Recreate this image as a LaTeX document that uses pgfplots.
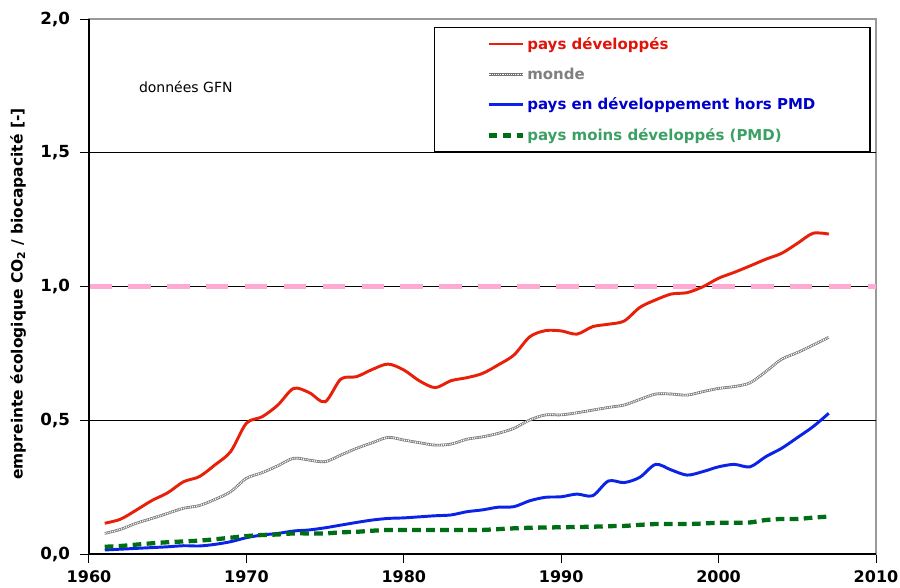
\documentclass[border=0pt]{standalone}
\usepackage{fontspec}
\setmainfont{DejaVu Sans}
\usepackage{pgfplots}
\pgfplotsset{compat=1.18}
\usepackage{pgfplotstable}

\definecolor{devred}{RGB}{232,32,10}
\definecolor{devredtxt}{RGB}{225,20,10}
\definecolor{devblue}{RGB}{10,35,230}
\definecolor{devbluetxt}{RGB}{0,0,205}
\definecolor{pmdgreen}{RGB}{0,110,20}
\definecolor{pmdgreentxt}{RGB}{60,160,100}
\definecolor{mondegray}{RGB}{128,128,128}
\definecolor{limitpink}{RGB}{255,170,210}

% developed countries
\pgfplotstableread{
year val
1961 0.115
1962 0.130
1963 0.164
1964 0.200
1965 0.229
1966 0.270
1967 0.289
1968 0.333
1969 0.383
1970 0.489
1971 0.513
1972 0.557
1973 0.619
1974 0.603
1975 0.569
1976 0.654
1977 0.663
1978 0.690
1979 0.710
1980 0.688
1981 0.647
1982 0.622
1983 0.648
1984 0.659
1985 0.675
1986 0.707
1987 0.744
1988 0.812
1989 0.835
1990 0.834
1991 0.822
1992 0.850
1993 0.859
1994 0.871
1995 0.922
1996 0.950
1997 0.972
1998 0.977
1999 0.999
2000 1.031
2001 1.053
2002 1.077
2003 1.102
2004 1.124
2005 1.161
2006 1.199
2007 1.196
}\developed

% world
\pgfplotstableread{
year val
1961 0.077
1962 0.092
1963 0.115
1964 0.133
1965 0.152
1966 0.171
1967 0.181
1968 0.204
1969 0.233
1970 0.283
1971 0.304
1972 0.330
1973 0.358
1974 0.351
1975 0.345
1976 0.370
1977 0.395
1978 0.416
1979 0.436
1980 0.426
1981 0.416
1982 0.407
1983 0.411
1984 0.429
1985 0.438
1986 0.451
1987 0.470
1988 0.501
1989 0.520
1990 0.520
1991 0.528
1992 0.538
1993 0.548
1994 0.557
1995 0.578
1996 0.598
1997 0.598
1998 0.594
1999 0.607
2000 0.619
2001 0.626
2002 0.640
2003 0.682
2004 0.728
2005 0.753
2006 0.781
2007 0.810
}\world

% developing countries excluding LDC
\pgfplotstableread{
year val
1961 0.015
1962 0.018
1963 0.021
1964 0.024
1965 0.027
1966 0.031
1967 0.030
1968 0.036
1969 0.046
1970 0.061
1971 0.071
1972 0.077
1973 0.086
1974 0.090
1975 0.098
1976 0.108
1977 0.118
1978 0.127
1979 0.133
1980 0.135
1981 0.139
1982 0.143
1983 0.146
1984 0.158
1985 0.165
1986 0.175
1987 0.177
1988 0.199
1989 0.212
1990 0.214
1991 0.224
1992 0.218
1993 0.273
1994 0.267
1995 0.287
1996 0.335
1997 0.314
1998 0.295
1999 0.308
2000 0.326
2001 0.335
2002 0.326
2003 0.364
2004 0.395
2005 0.435
2006 0.476
2007 0.526
}\developing

% least developed countries
\pgfplotstableread{
year val
1961 0.027
1962 0.030
1963 0.035
1964 0.040
1965 0.044
1966 0.047
1967 0.050
1968 0.055
1969 0.061
1970 0.067
1971 0.071
1972 0.073
1973 0.077
1974 0.077
1975 0.077
1976 0.081
1977 0.083
1978 0.087
1979 0.090
1980 0.090
1981 0.090
1982 0.090
1983 0.090
1984 0.090
1985 0.090
1986 0.093
1987 0.096
1988 0.098
1989 0.099
1990 0.100
1991 0.101
1992 0.102
1993 0.104
1994 0.105
1995 0.109
1996 0.112
1997 0.112
1998 0.112
1999 0.114
2000 0.117
2001 0.117
2002 0.118
2003 0.127
2004 0.131
2005 0.131
2006 0.136
2007 0.140
}\ldc

\begin{document}
\begin{tikzpicture}
\begin{axis}[
  scale only axis,
  width=590.25pt, height=401.25pt,
  xmin=1960, xmax=2010, ymin=0, ymax=2,
  xtick={1960,1970,...,2010},
  ytick={0,0.5,1,1.5,2},
  xtick pos=left, ytick pos=left,
  tick align=outside,
  major tick length=6.75pt,
  tick style={black, line width=0.75pt},
  axis line style={draw=gray!80, line width=1pt},
  xticklabel style={font=\fontsize{12}{14}\selectfont\bfseries, yshift=-2pt,
    /pgf/number format/1000 sep={}, /pgf/number format/assume math mode=true},
  yticklabel style={font=\fontsize{12.5}{14}\selectfont\bfseries, xshift=-4pt,
    /pgf/number format/.cd, fixed, fixed zerofill, precision=1, use comma, assume math mode=true},
  ylabel={empreinte écologique CO\textsubscript{2} / biocapacité [-]},
  every axis y label/.style={at={([xshift=-53.25pt]rel axis cs:0,0.486)}, rotate=90, anchor=center,
    font=\fontsize{11.6}{13}\selectfont\bfseries},
  legend cell align=left,
  legend style={at={(rel axis cs:0.438,0.985)}, anchor=north west,
    draw=black, line width=1pt, inner xsep=39pt, inner ysep=5pt,
    font=\fontsize{11.25}{13}\selectfont\bfseries,
    row sep=8.5pt, /tikz/every even column/.append style={column sep=2pt}},
  legend image code/.code={\draw[#1] (0pt,0pt) -- (25.5pt,0pt);},
  clip=false,
]
% grid lines
\draw[black, line width=0.75pt] (axis cs:1960,0.5) -- (axis cs:2010,0.5);
\draw[black, line width=0.75pt] (axis cs:1960,1) -- (axis cs:2010,1);
\draw[black, line width=0.75pt] (axis cs:1960,1.5) -- (axis cs:2010,1.5);

% limit line
\addplot[forget plot, limitpink, line width=3.75pt, dash pattern=on 17pt off 12.2pt]
  coordinates {(1960,1) (2010,1)};

\addplot[devred, line width=2.2pt, smooth] table[x=year, y=val] {\developed};
\addlegendentry{\textcolor{devredtxt}{pays développés}}

\addplot[black!55, line width=2pt, smooth,
  postaction={draw, white, line width=1.1pt, dash pattern=on 0.7pt off 0.7pt}]
  table[x=year, y=val] {\world};
\addlegendentry{\textcolor{mondegray}{monde}}

\addplot[devblue, line width=2.2pt, smooth] table[x=year, y=val] {\developing};
\addlegendentry{\textcolor{devbluetxt}{pays en développement hors PMD}}

\addplot[pmdgreen, line width=3.2pt, smooth, dash pattern=on 6.5pt off 4pt]
  table[x=year, y=val] {\ldc};
\addlegendentry{\textcolor{pmdgreentxt}{pays moins développés (PMD)}}

% black left and bottom axis lines
\draw[black, line width=1pt] (rel axis cs:0,1) -- (rel axis cs:0,0) -- (rel axis cs:1,0);

\node[font=\fontsize{10.5}{12}\selectfont, anchor=center] at (rel axis cs:0.123,0.873) {données GFN};
\end{axis}
\pgfresetboundingbox
\path[use as bounding box] (-66.75pt,-24.75pt) rectangle (608.25pt,415.5pt);
\end{tikzpicture}
\end{document}
